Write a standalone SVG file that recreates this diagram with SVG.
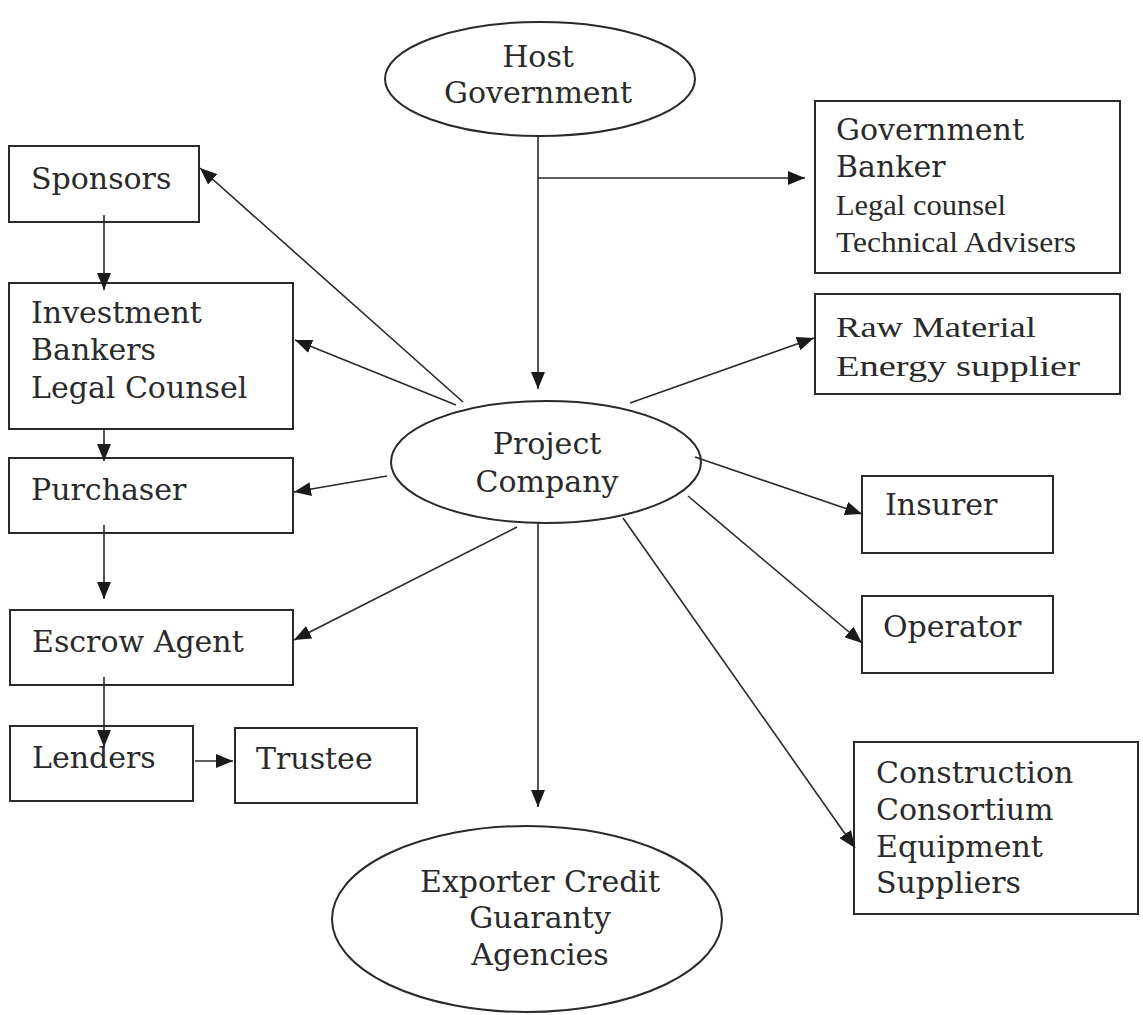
<svg xmlns="http://www.w3.org/2000/svg" width="1143" height="1015" viewBox="0 0 1143 1015">
<style>
  .box { fill: #ffffff; stroke: #2a2a2a; stroke-width: 2; }
  .ell { fill: #ffffff; stroke: #2a2a2a; stroke-width: 2; }
  .t { font-family: "DejaVu Serif", "Liberation Serif", serif; font-size: 30px; fill: #2a2a2a; }
  .tr { font-family: "Liberation Serif", "Times New Roman", serif; font-size: 29px; fill: #2a2a2a; }
  .c { text-anchor: middle; }
  .conn line { stroke: #2a2a2a; stroke-width: 1.6; fill: none; }
  .arr line { marker-end: url(#ah); }
</style>
<defs>
  <marker id="ah" markerUnits="userSpaceOnUse" markerWidth="18" markerHeight="14" refX="17" refY="7" orient="auto">
    <path d="M0,0 L17,7 L0,14 z" fill="#1a1a1a"/>
  </marker>
</defs>
<rect width="1143" height="1015" fill="#ffffff"/>

<g id="host-government">
  <ellipse class="ell" cx="540" cy="79" rx="155" ry="57"/>
  <text class="t c" x="538" y="67">Host</text>
  <text class="t c" x="538" y="103">Government</text>
</g>

<g id="government-advisers">
  <rect class="box" x="815" y="101" width="305" height="172"/>
  <text class="t" x="836" y="140">Government</text>
  <text class="t" x="836" y="177">Banker</text>
  <text class="tr" x="836" y="215" textLength="170" lengthAdjust="spacingAndGlyphs">Legal counsel</text>
  <text class="tr" x="836" y="252" textLength="240" lengthAdjust="spacingAndGlyphs">Technical Advisers</text>
</g>

<g id="raw-material">
  <rect class="box" x="815" y="294" width="305" height="100"/>
  <text class="tr" x="836" y="337" textLength="200" lengthAdjust="spacingAndGlyphs">Raw Material</text>
  <text class="tr" x="836" y="376" textLength="244" lengthAdjust="spacingAndGlyphs">Energy supplier</text>
</g>

<g id="sponsors">
  <rect class="box" x="9" y="146" width="190" height="76"/>
  <text class="t" x="31" y="189">Sponsors</text>
</g>

<g id="investment-bankers">
  <rect class="box" x="9" y="283" width="284" height="146"/>
  <text class="t" x="31" y="323">Investment</text>
  <text class="t" x="31" y="360">Bankers</text>
  <text class="t" x="31" y="398">Legal Counsel</text>
</g>

<g id="purchaser">
  <rect class="box" x="9" y="458" width="284" height="75"/>
  <text class="t" x="31" y="500">Purchaser</text>
</g>

<g id="escrow-agent">
  <rect class="box" x="10" y="610" width="283" height="75"/>
  <text class="t" x="32" y="652">Escrow Agent</text>
</g>

<g id="lenders">
  <rect class="box" x="10" y="726" width="183" height="75"/>
  <text class="t" x="32" y="768">Lenders</text>
</g>

<g id="trustee">
  <rect class="box" x="235" y="728" width="182" height="75"/>
  <text class="t" x="256" y="769">Trustee</text>
</g>

<g id="project-company">
  <ellipse class="ell" cx="546" cy="462" rx="155" ry="61"/>
  <text class="t c" x="547" y="454">Project</text>
  <text class="t c" x="547" y="492">Company</text>
</g>

<g id="insurer">
  <rect class="box" x="862" y="476" width="191" height="77"/>
  <text class="t" x="885" y="515">Insurer</text>
</g>

<g id="operator">
  <rect class="box" x="862" y="596" width="191" height="77"/>
  <text class="t" x="883" y="637">Operator</text>
</g>

<g id="construction">
  <rect class="box" x="854" y="742" width="284" height="172"/>
  <text class="t" x="876" y="783">Construction</text>
  <text class="t" x="876" y="820">Consortium</text>
  <text class="t" x="876" y="857">Equipment</text>
  <text class="t" x="876" y="893">Suppliers</text>
</g>

<g id="exporter-credit">
  <ellipse class="ell" cx="527" cy="919" rx="195" ry="93"/>
  <text class="t c" x="540" y="892">Exporter Credit</text>
  <text class="t c" x="540" y="928">Guaranty</text>
  <text class="t c" x="540" y="965">Agencies</text>
</g>

<g id="connectors" class="conn">
  <line x1="538" y1="136" x2="538" y2="178"/>
  <g class="arr">
    <line x1="538" y1="178" x2="538" y2="389"/>
    <line x1="538" y1="178" x2="805" y2="178"/>
    <line x1="463" y1="402" x2="200" y2="168"/>
    <line x1="456" y1="405" x2="295" y2="340"/>
    <line x1="387" y1="476" x2="294" y2="492"/>
    <line x1="517" y1="527" x2="294" y2="640"/>
    <line x1="630" y1="403" x2="814" y2="338"/>
    <line x1="695" y1="457" x2="862" y2="514"/>
    <line x1="688" y1="496" x2="862" y2="643"/>
    <line x1="623" y1="518" x2="855" y2="848"/>
    <line x1="538" y1="523" x2="538" y2="807"/>
    <line x1="104" y1="215" x2="104" y2="290"/>
    <line x1="104" y1="429" x2="104" y2="461"/>
    <line x1="104" y1="525" x2="104" y2="599"/>
    <line x1="104" y1="677" x2="104" y2="747"/>
    <line x1="195" y1="761" x2="233" y2="761"/>
  </g>
</g>
</svg>
